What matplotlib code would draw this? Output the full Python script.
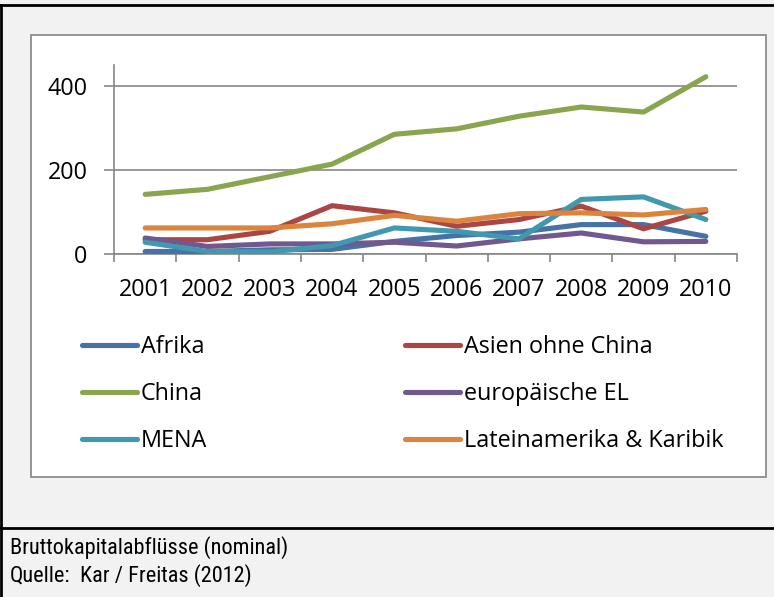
import matplotlib
matplotlib.use("Agg")
import matplotlib.pyplot as plt
from matplotlib.lines import Line2D
from matplotlib.patches import Rectangle
from matplotlib import font_manager

years = ["2001", "2002", "2003", "2004", "2005", "2006", "2007", "2008", "2009", "2010"]
series_names = ["Afrika", "Asien ohne China", "China", "europäische EL", "MENA",
                "Lateinamerika & Karibik"]
afrika = [6, 6, 10, 11, 30, 44, 52, 70, 70, 42]
asien = [34, 34, 54, 115, 98, 66, 82, 114, 60, 102]
china = [142, 154, 184, 214, 285, 298, 328, 350, 338, 422]
europa = [38, 18, 24, 24, 28, 19, 36, 50, 29, 30]
mena = [28, 6, 5, 20, 62, 54, 36, 130, 136, 82]
latein = [62, 62, 62, 72, 92, 78, 96, 98, 93, 106]
series_values = [afrika, asien, china, europa, mena, latein]
colors = ["#4572A7", "#AA4643", "#89A54E", "#71588F", "#4198AF", "#DB843D"]
y_ticks = [0, 200, 400]

names = {f.name for f in font_manager.fontManager.ttflist}
main_font = "Open Sans" if "Open Sans" in names else "DejaVu Sans"
cap_font = "DejaVu Sans"
for cand in ["Liberation Sans Narrow", "Roboto Condensed", "Open Sans Condensed", "Liberation Sans"]:
    if cand in names:
        cap_font = cand
        break

W, H = 774, 597
fig = plt.figure(figsize=(W / 100, H / 100), dpi=100)
fig.patch.set_facecolor("#F2F2F2")

def fx(px):
    return px / W

def fy(py):
    return 1 - py / H

# chart box
fig.add_artist(Rectangle((fx(31), fy(477)), fx(766) - fx(31), fy(35) - fy(477),
                         transform=fig.transFigure, facecolor="white",
                         edgecolor="#8C8C8C", linewidth=1.3, zorder=0))
# outer lines
fig.add_artist(Line2D([0, 1], [fy(5), fy(5)], transform=fig.transFigure, color="black", lw=2))
fig.add_artist(Line2D([0, 1], [fy(528), fy(528)], transform=fig.transFigure, color="black", lw=2))
fig.add_artist(Line2D([fx(1), fx(1)], [0, fy(5)], transform=fig.transFigure, color="black", lw=2))

ax = fig.add_axes([fx(114), fy(254), fx(737) - fx(114), fy(65) - fy(254)])
ax.set_facecolor("none")
x = list(range(1, len(years) + 1))
for vals, c in zip(series_values, colors):
    ax.plot(x, vals, color=c, lw=3.7, solid_capstyle="round", solid_joinstyle="round", zorder=3)

ax.set_xlim(0.5, len(years) + 0.5)
ax.set_ylim(0, 450)
ax.set_yticks(y_ticks)
ax.set_yticklabels([str(v) for v in y_ticks], fontfamily=main_font, fontsize=16.8)
ax.set_xticks(x)
ax.set_xticklabels(years, fontfamily=main_font, fontsize=16.8)
ax.set_xticks([i + 0.5 for i in range(0, len(years) + 1)], minor=True)
ax.tick_params(axis="x", which="major", length=0, pad=17.5)
ax.tick_params(axis="x", which="minor", length=6, width=1.2, color="#868686")
ax.tick_params(axis="y", which="major", length=7, width=1.2, color="#868686", pad=12)
ax.grid(axis="y", color="#868686", lw=1.2)
ax.set_axisbelow(True)
for s in ["top", "right"]:
    ax.spines[s].set_visible(False)
for s in ["left", "bottom"]:
    ax.spines[s].set_color("#868686")
    ax.spines[s].set_linewidth(1.2)

# legend
rows_y = [345, 392, 439]
cols_x = [82, 405]
for i, (name, c) in enumerate(zip(series_names, colors)):
    r, col = divmod(i, 2)
    x0 = cols_x[col]
    yy = fy(rows_y[r])
    fig.add_artist(Line2D([fx(x0), fx(x0 + 55)], [yy, yy], transform=fig.transFigure,
                          color=c, lw=3.7, solid_capstyle="round"))
    fig.text(fx(x0 + 59), fy(rows_y[r] + 2), name, fontfamily=main_font, fontsize=16.8,
             va="center", ha="left", color="black")

fig.text(fx(10), fy(548), "Bruttokapitalabflüsse (nominal)", fontfamily=cap_font,
         fontsize=16, va="center", ha="left")
fig.text(fx(10), fy(576), "Quelle:", fontfamily=cap_font, fontsize=16, va="center", ha="left")
fig.text(fx(80), fy(576), "Kar / Freitas (2012)", fontfamily=cap_font, fontsize=16,
         va="center", ha="left")

fig.savefig("out.png", dpi=100, facecolor=fig.get_facecolor())
